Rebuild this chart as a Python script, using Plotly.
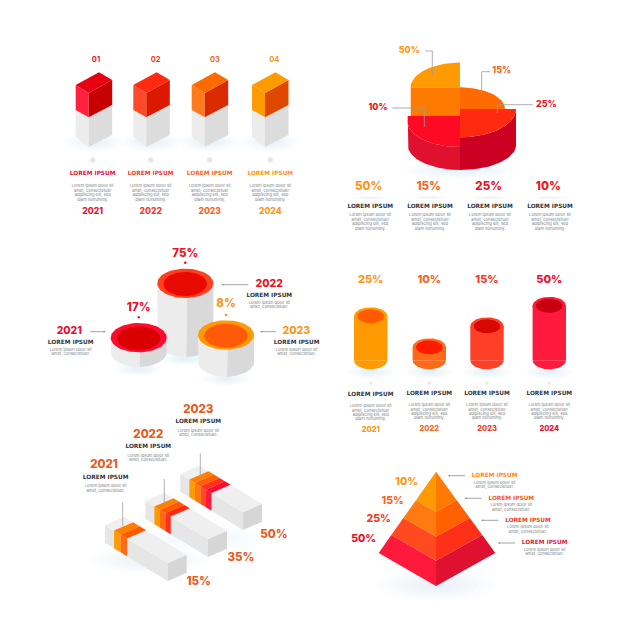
import numpy as np
import plotly.graph_objects as go

# ---------- chart content ----------
years4 = ["2021", "2022", "2023", "2024"]
years3 = ["2021", "2022", "2023"]
box_numbers = ["01", "02", "03", "04"]
pie_labels = ["50%", "15%", "25%", "10%"]
pillar_labels = ["17%", "75%", "8%"]
pillar_heights = [29.3, 73.7, 41.7]
tube_labels = ["25%", "10%", "15%", "50%"]
tube_heights = [44.0, 13.0, 34.0, 54.5]
bar_labels = ["15%", "35%", "50%"]
bar_stripes = [2, 3, 4]
pyramid_labels = ["10%", "15%", "25%", "50%"]
pyramid_levels = [0.35, 0.57, 0.78, 1.0]
head = "LOREM IPSUM"
body4 = ["Lorem ipsum dolor sit", "amet, consectetuer", "adipiscing elit, sed", "diam nonummy."]
body2 = ["Lorem ipsum dolor sit", "amet, consectetuer."]

AMBER, ORANGE, VERM, RED, CRIM = "#ff9a00", "#ff6a00", "#ff3a1a", "#ee1020", "#e8102f"
FONT = "Inter"
HFONT = "DejaVu Sans"
GREY_T = "#7b7f87"
DARK = "#33353b"

fig = go.Figure()


def poly(xs, ys, color):
    fig.add_trace(go.Scatter(x=list(xs), y=list(ys), mode="lines", fill="toself",
                             fillcolor=color, line=dict(width=0), hoverinfo="skip"))


def line(xs, ys, color="#9a9a9a", w=0.8):
    fig.add_trace(go.Scatter(x=list(xs), y=list(ys), mode="lines",
                             line=dict(color=color, width=w), hoverinfo="skip"))


def text(x, y, s, size, color, weight=800, family=None):
    fig.add_trace(go.Scatter(x=[x], y=[y], mode="text", text=[s], textposition="middle center",
                             textfont=dict(family=family or FONT, size=size, color=color, weight=weight),
                             hoverinfo="skip"))


def heading(x, y, color):
    text(x, y, head, 5.8, color, 700, HFONT)


def arc(cx, cy, rx, ry, a0, a1, n=40):
    t = np.radians(np.linspace(a0, a1, n))
    return cx + rx * np.cos(t), cy + ry * np.sin(t)


def ellipse(cx, cy, rx, ry, color):
    x, y = arc(cx, cy, rx, ry, 0, 360, 72)
    poly(x, y, color)


def shadow(cx, cy, rx, ry, steps=7, alpha=0.05):
    for i in range(steps):
        k = 1 - i / steps
        ellipse(cx, cy, rx * k, ry * k, f"rgba(170,210,240,{alpha})")


def body(x, y, lines, gap=4.5):
    for i, s in enumerate(lines):
        text(x, y + i * gap, s, 4.1, GREY_T, 400)


def arrow(x0, x1, y):
    line([x0, x1], [y, y], "#8a8a8a", 0.8)
    d = 1.6 if x1 > x0 else -1.6
    poly([x1, x1 - d, x1 - d], [y, y - 1, y + 1], "#8a8a8a")


# ---------- panel 1: isometric boxes ----------
box_left = [75.7, 133.3, 191.7, 252.0]
box_text = [92.7, 150.7, 209.7, 270.3]
box_num = [96, 155.7, 215, 274.3]
box_cols = [("#e60012", "#ff1f3f", "#c80000", CRIM), ("#ff2a10", "#ff4a2a", "#dd1800", "#f03a2a"),
            ("#ff6a00", "#ff7a1a", "#d92a00", "#f4661f"), (AMBER, AMBER, "#e04800", "#ff9416")]
for i in range(4):
    x = box_left[i]
    top, left, right, tc = box_cols[i]
    shadow(x + 18, 142, 30, 10)
    a, b, c = x, x + 13, x + 36.5
    poly([a, b, b, a], [110, 117.3, 146.7, 136.7], "#ececec")
    poly([b, c, c, b], [117.3, 105, 135, 146.7], "#dcdcdc")
    poly([a, b, b, a], [85, 93, 117.3, 110], left)
    poly([b, c, c, b], [93, 80, 105, 117.3], right)
    poly([a, x + 23.3, c, b], [85, 72.3, 80, 93], top)
    ellipse(box_text[i], 160, 2.8, 2.8, "#e6e6e6")
    text(box_num[i], 60.3, box_numbers[i], 7.5, tc, 700)
    heading(box_text[i], 174, tc)
    body(box_text[i], 186, body4)
    text(box_text[i], 212, years4[i], 8.6, tc)

# ---------- panel 2: stepped pie ----------
shadow(460, 170, 55, 9)
X = 460
ax, ay = arc(X, 145, 52.3, 25, 180, 90)
bx, by = arc(X, 122, 52.3, 25, 90, 180)
poly(np.r_[407.7, ax, bx], np.r_[116, ay, by], "#e0102f")
ax, ay = arc(X, 145, 56, 25, 90, 0)
bx, by = arc(X, 109, 56, 28.3, 0, 90)
poly(np.r_[ax, bx], np.r_[ay, by], "#cc0022")
bx, by = arc(X, 122, 52.3, 25, 90, 180)
poly(np.r_[407.7, X, bx], np.r_[116, 116, by], "#ff0a25")
bx, by = arc(X, 109, 56, 28.3, 0, 90)
poly(np.r_[X, bx], np.r_[109, by], "#ff2a10")
bx, by = arc(X, 109, 45, 21.7, 270, 360)
poly(np.r_[X, bx], np.r_[109, by], ORANGE)
poly([410.7, X, X, 410.7], [87.3, 87.3, 116, 116], "#ff7a00")
bx, by = arc(X, 87.3, 49.3, 24.7, 180, 270)
poly(np.r_[X, bx], np.r_[87.3, by], AMBER)
line([425, 432.3, 432.3], [51, 51, 75])
line([490, 481.7, 481.7], [71.7, 71.7, 94])
line([532.7, 497.3, 497.3], [104.7, 104.7, 113])
line([392.3, 424.3, 424.3], [108, 108, 127])
pie_tops = [(409.3, 50.7, "#ff9416"), (501.7, 71.3, "#f4661f"), (546.3, 104.7, RED), (378, 108.3, RED)]
for (x, y, c), s in zip(pie_tops, pie_labels):
    text(x, y, s, 8.8, c)
pie_x = [368.7, 428.7, 488.7, 548.3]
pie_h = [370.3, 430, 490, 550]
pie_c = ["#ff9416", "#f4661f", RED, RED]
for i in range(4):
    shadow(pie_h[i], 197.7, 18, 1.2, 4, 0.12)
    text(pie_x[i], 187.3, pie_labels[i], 11.5, pie_c[i])
    heading(pie_h[i], 206.3, DARK)
    body(pie_h[i], 215.3, body4)

# ---------- panel 3: pillars ----------
pillar_x = [138.7, 185.3, 226]
pillar_top = [337.7, 283.3, 335]
ring = ["#ff0a30", "#ff4020", AMBER]
hole = ["#d80000", "#e80a00", "#ff5a08"]
lab_y = [308, 253.7, 304]
dot_y = [317.3, 262.7, 315]
lab_c = [CRIM, RED, "#ff9416"]
for i in (1, 0, 2):
    cx, cy, h = pillar_x[i], pillar_top[i], pillar_heights[i]
    base = cy + h - 14.7
    shadow(cx, cy + h + 2, 24, 7)
    ax, ay = arc(cx, base, 28, 14.7, 180, 88)
    poly(np.r_[cx - 28, ax, cx + 2], np.r_[cy, ay, cy], "#ececec")
    ax, ay = arc(cx, base, 28, 14.7, 88, 0)
    poly(np.r_[cx + 2, ax, cx + 28], np.r_[cy, ay, cy], "#d9d9d9")
    ellipse(cx, cy, 28, 14.7, ring[i])
    ellipse(cx, cy + 0.7, 21.7, 12, hole[i])
for i in range(3):
    text(pillar_x[i], lab_y[i], pillar_labels[i], 11.5, lab_c[i])
    ellipse(pillar_x[i], dot_y[i], 1.4, 1.4, lab_c[i])
side = [(69.3, 331.7, 70.7, CRIM), (269.3, 284.7, 269.3, RED), (296.3, 331.7, 296.7, "#ff9416")]
for (x, y, x2, c), s in zip(side, years3):
    text(x, y, s, 10.5, c)
    heading(x2, y + 10.7, DARK)
    body(x2, y + 18.6, body2, 4)
arrow(90.3, 105.3, 331.7)
arrow(248.3, 221.7, 284.7)
arrow(276, 260.7, 331.7)

# ---------- panel 4: tubes ----------
tube_x = [370.7, 429.3, 487, 549.3]
tube_c = [AMBER, "#ff6a1a", "#ff4028", "#ff1a3c"]
tube_h = ["#ff5a00", "#ff1a00", "#d80800", "#c80010"]
tube_t = ["#ff9416", "#f4661f", "#f03a2a", CRIM]
base_y = 360.3
for i in range(4):
    cx, h = tube_x[i], tube_heights[i]
    top = base_y - h
    shadow(cx, 372, 24, 7)
    ax, ay = arc(cx, base_y, 16.7, 9, 180, 0)
    poly(np.r_[ax], np.r_[ay], tube_c[i])
    poly([cx - 16.7, cx + 16.7, cx + 16.7, cx - 16.7], [top, top, base_y, base_y], tube_c[i])
    ellipse(cx, top, 16.7, 9, tube_c[i])
    ellipse(cx, top, 13.3, 7, tube_h[i])
    text(cx, 280.3, tube_labels[i], 11, tube_t[i])
    ellipse(cx, 383, 1.8, 1.8, "#e8e8e8")
    dy = 0 if i == 0 else -1
    heading(cx, 395 + dy, DARK)
    body(cx, 406.3 + dy, body4, 4.3)
    text(cx, 430 + dy, years4[i], 7.5, tube_t[i])

# ---------- panel 5: isometric bars ----------
bar_off = [(-75.3, 51), (-35, 27), (0, 0)]
stripe_w = [0.104, 0.087, 0.088]
stripe_cols = {2: [AMBER, "#ff6a10"], 3: [AMBER, "#ff6a10", "#ff3020"],
               4: [AMBER, "#ff7a00", "#ff4a20", "#ff1a3c"]}
stripe_top = {2: ["#ff8000", "#ff5a00"], 3: ["#ff8000", "#ff5a00", "#ff2a10"],
              4: ["#ff8000", "#ff6000", "#ff3020", "#ff0a30"]}
A = np.array([180.3, 474.0])
L = np.array([62.7, 38.3])
W = np.array([19.0, -8.3])
H = np.array([0.0, 17.7])
shadow(150, 560, 60, 14, 7, 0.04)
shadow(205, 538, 60, 12, 7, 0.03)
for i in (2, 1, 0):
    a = A + np.array(bar_off[i])
    def q(color, *pts):
        poly([p[0] for p in pts], [p[1] for p in pts], color)
    q("#e6e6e6", a, a + L, a + L + H, a + H)
    q("#efefef", a, a + L, a + L + W, a + W)
    q("#d6d6d6", a + L, a + L + W, a + L + W + H, a + L + H)
    n = bar_stripes[i]
    t = 0.145
    for j in range(n):
        t2 = t + stripe_w[i]
        q(stripe_cols[n][j], a + L * t, a + L * t2, a + L * t2 + H, a + L * t + H)
        q(stripe_top[n][j], a + L * t, a + L * t2, a + L * t2 + W, a + L * t + W)
        t = t2
bar_line = [(122.7, 502.3), (164.3, 479), (200.3, 453.3)]
for x, y in bar_line:
    line([x, x], [y, y + 24], "#a0a0a0", 0.8)
bar_head = [(104, 465.3, 105.7), (148.3, 435, 148.3), (198.3, 410, 198.3)]
BO = "#e85a20"
for (x, y, x2), s in zip(bar_head, years3):
    text(x, y, s, 11.5, BO)
    heading(x2, y + 12, DARK)
    body(x2, y + 21, body2, 4.4)
bar_pct = [(198.7, 582.3), (241, 558.3), (274, 534.7)]
for (x, y), s in zip(bar_pct, bar_labels):
    text(x, y, s, 11.5, BO)

# ---------- panel 6: pyramid ----------
shadow(436, 585, 60, 16, 7, 0.04)
apex = np.array([436.0, 471.7])
lc = np.array([378.7, 553.0])
rc = np.array([495.3, 553.0])
fc = np.array([436.0, 586.0])
left_c = [AMBER, "#ff7a10", "#ff4a20", "#ff1a3c"]
right_c = ["#ff7a00", "#ff6000", "#ff3018", "#e01030"]
prev = 0.0
for i, t in enumerate(pyramid_levels):
    p0, p1 = apex + (lc - apex) * prev, apex + (lc - apex) * t
    m0, m1 = apex + (fc - apex) * prev, apex + (fc - apex) * t
    r0, r1 = apex + (rc - apex) * prev, apex + (rc - apex) * t
    poly([p0[0], m0[0], m1[0], p1[0]], [p0[1], m0[1], m1[1], p1[1]], left_c[i])
    poly([r0[0], m0[0], m1[0], r1[0]], [r0[1], m0[1], m1[1], r1[1]], right_c[i])
    prev = t
pyr_pct = [(406.7, 482.7), (392.7, 501.3), (378.7, 519.3), (363.7, 539.3)]
pyr_head = [(494.7, 475.7), (511.3, 498.3), (528, 520.3), (544.7, 543)]
pyr_c = ["#ff9416", "#f4661f", "#ee3a2a", CRIM]
pyr_hc = ["#ff8a10", "#f85a20", "#e8402a", "#e01a3a"]
for i in range(4):
    x, y = pyr_pct[i]
    text(x, y, pyramid_labels[i], 10.5, pyr_c[i])
    x, y = pyr_head[i]
    heading(x, y, pyr_hc[i])
    body(x, y + 7, body2, 4.2)
    arrow(x - 29.7, x - 46.4, y)

fig.update_layout(
    width=626, height=626, margin=dict(l=0, r=0, t=0, b=0),
    paper_bgcolor="white", plot_bgcolor="white", showlegend=False, hovermode=False,
    xaxis=dict(range=[0, 626], visible=False, fixedrange=True),
    yaxis=dict(range=[626, 0], visible=False, fixedrange=True),
)
fig.write_html("out.html", config={"displayModeBar": False},
               post_script="document.body.style.margin='0';document.body.style.overflow='hidden';")
